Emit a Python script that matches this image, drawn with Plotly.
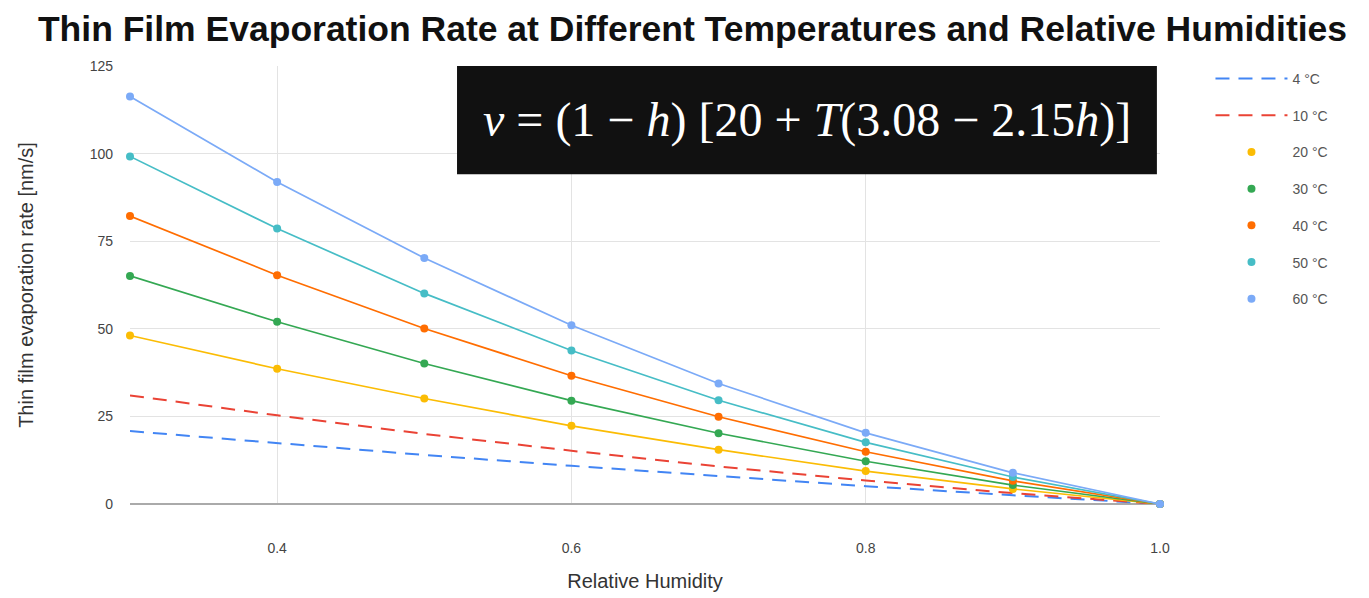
import plotly.graph_objects as go

humidity = [0.3, 0.4, 0.5, 0.6, 0.7, 0.8, 0.9, 1.0]

series_names = ["4 °C", "10 °C", "20 °C", "30 °C", "40 °C", "50 °C", "60 °C"]
v_4 = [20.8, 17.3, 14.0, 10.9, 7.9, 5.1, 2.5, 0.0]
v_10 = [31.0, 25.3, 20.0, 15.2, 10.7, 6.7, 3.1, 0.0]
v_20 = [48.1, 38.6, 30.1, 22.3, 15.5, 9.4, 4.3, 0.0]
v_30 = [65.1, 52.0, 40.1, 29.5, 20.2, 12.2, 5.4, 0.0]
v_40 = [82.2, 65.3, 50.1, 36.6, 24.9, 14.9, 6.6, 0.0]
v_50 = [99.2, 78.6, 60.1, 43.8, 29.6, 17.6, 7.7, 0.0]
v_60 = [116.3, 91.9, 70.2, 51.0, 34.4, 20.3, 8.9, 0.0]
series_values = [v_4, v_10, v_20, v_30, v_40, v_50, v_60]
colors = ["#4285F4", "#EA4335", "#FBBC04", "#34A853", "#FF6D01", "#46BDC6", "#7BAAF7"]
dashed = [True, True, False, False, False, False, False]

x_ticks = [0.4, 0.6, 0.8, 1.0]
y_ticks = [0, 25, 50, 75, 100, 125]

fig = go.Figure()
for i, (name, vals, col, dsh) in enumerate(zip(series_names, series_values, colors, dashed)):
    if dsh:
        fig.add_trace(go.Scatter(
            x=humidity, y=vals, name=name, mode="lines",
            line=dict(color=col, width=2, dash="14px,9px"),
            legendgroup=name, legendrank=i,
        ))
    else:
        fig.add_trace(go.Scatter(
            x=humidity, y=vals, name=name, mode="lines",
            line=dict(color=col, width=1.7),
            showlegend=False, legendgroup=name,
        ))
        fig.add_trace(go.Scatter(
            x=humidity, y=vals, name=name, mode="markers",
            marker=dict(color=col, size=8), cliponaxis=False,
            legendgroup=name, legendrank=i,
        ))

fig.update_layout(
    width=1369, height=598,
    paper_bgcolor="white", plot_bgcolor="white",
    margin=dict(l=122, r=217, t=58, b=102),
    font=dict(family="Liberation Sans, Arial, sans-serif", color="#444"),
    title=dict(
        text="<b>Thin Film Evaporation Rate at Different Temperatures and Relative Humidities</b>",
        x=0.5, xanchor="center", y=0.966, yanchor="middle",
        font=dict(size=35.5, color="#111", family="Liberation Sans, Arial"),
    ),
    legend=dict(
        x=1.049, xanchor="left", y=1.007, yanchor="top",
        font=dict(size=14, color="#555"),
        tracegroupgap=15.5, itemwidth=72,
        bgcolor="rgba(0,0,0,0)",
    ),
    showlegend=True,
)

fig.update_xaxes(
    range=[0.3, 1.0], tickvals=x_ticks, tickformat=".1f",
    showgrid=True, gridcolor="#e3e3e3", gridwidth=1,
    zeroline=False, showline=False,
    tickfont=dict(size=14, color="#444"), ticklabelstandoff=34,
    title=dict(text="Relative Humidity", font=dict(size=20, color="#333"), standoff=18),
)
fig.update_yaxes(
    range=[0, 125], tickvals=y_ticks,
    showgrid=True, gridcolor="#e3e3e3", gridwidth=1,
    zeroline=True, zerolinecolor="#aaaaaa", zerolinewidth=2,
    showline=False,
    tickfont=dict(size=14, color="#444"), ticklabelstandoff=16,
    title=dict(text="Thin film evaporation rate [nm/s]", font=dict(size=20, color="#333"), standoff=50),
)

fig.add_shape(type="rect", xref="paper", yref="paper",
              x0=0.3175, x1=0.997, y0=0.753, y1=1.0,
              fillcolor="#111111", line=dict(width=0), layer="above")
fig.add_annotation(
    xref="paper", yref="paper", x=(0.3175 + 0.997) / 2, y=(0.753 + 1.0) / 2,
    text="<i>v</i> = (1 − <i>h</i>) [20 + <i>T</i>(3.08 − 2.15<i>h</i>)]",
    showarrow=False, xanchor="center", yanchor="middle",
    font=dict(family="Liberation Serif, DejaVu Serif, serif", size=48, color="white"),
)

fig.write_html("out.html")
